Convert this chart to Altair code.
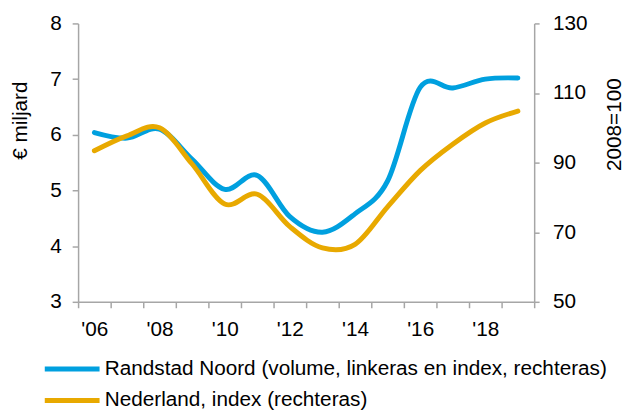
import altair as alt
import pandas as pd

years = list(range(2006, 2020))
randstad = [6.04, 5.94, 6.10, 5.56, 5.02, 5.27, 4.53, 4.25, 4.58, 5.17, 6.85, 6.84, 7.00, 7.02]
nederland = [93.4, 97.7, 100.0, 89.6, 78.1, 80.9, 71.6, 65.5, 66.5, 77.3, 87.7, 95.3, 101.4, 104.8]
series = ["Randstad Noord (volume, linkeras en index, rechteras)", "Nederland, index (rechteras)"]
colors = ["#00A0DF", "#E8A900"]
left_ticks = [3, 4, 5, 6, 7, 8]
right_ticks = [50, 70, 90, 110, 130]

df_r = pd.DataFrame({"year": years, "value": randstad, "series": series[0]})
df_n = pd.DataFrame({"year": years, "value": nederland, "series": series[1]})

FONT = "Liberation Sans"
FS = 21
GRAY = "#A6A6A6"

x_enc = alt.X(
    "year:O",
    bandPosition=0.5,
    scale=alt.Scale(type="band", paddingInner=0, paddingOuter=0),
    axis=alt.Axis(
        title=None,
        labelAngle=0,
        tickBand="extent",
        labelExpr="datum.value % 2 == 0 ? \"'\" + slice(toString(datum.value), 2) : ''",
        labelFontSize=FS,
        labelFont=FONT,
        labelColor="#000000",
        labelPadding=11,
        tickSize=6,
        tickColor=GRAY,
        domainColor=GRAY,
        domainWidth=1.5,
        tickWidth=1.5,
        grid=False,
    ),
)

color_enc = alt.Color(
    "series:N",
    scale=alt.Scale(domain=series, range=colors),
    legend=alt.Legend(
        title=None,
        orient="none",
        legendX=-36.5,
        legendY=334,
        direction="vertical",
        symbolType="stroke",
        symbolSize=3080,
        symbolStrokeWidth=5,
        labelFontSize=FS,
        labelFont=FONT,
        labelColor="#000000",
        labelOffset=2.5,
        labelLimit=600,
        padding=0,
        clipHeight=32,
        rowPadding=0,
    ),
)

left = alt.Chart(df_r).mark_line(interpolate="cardinal", strokeWidth=5, strokeCap="round").encode(
    x=x_enc,
    y=alt.Y(
        "value:Q",
        scale=alt.Scale(domain=[3, 8], nice=False, zero=False),
        axis=alt.Axis(
            values=left_ticks,
            title="€ miljard",
            titleFont=FONT,
            titleFontSize=FS,
            titleFontWeight="normal",
            titleColor="#000000",
            titleAngle=270,
            titleX=-58,
            titleY=98,
            titleAlign="center",
            titleBaseline="middle",
            labelFontSize=FS,
            labelFont=FONT,
            labelColor="#000000",
            labelPadding=11,
            tickSize=6,
            tickColor=GRAY,
            domainColor=GRAY,
            domainWidth=1.5,
            tickWidth=1.5,
            grid=False,
        ),
    ),
    color=color_enc,
)

right = alt.Chart(df_n).mark_line(interpolate="cardinal", strokeWidth=5, strokeCap="round").encode(
    x=x_enc,
    y=alt.Y(
        "value:Q",
        scale=alt.Scale(domain=[50, 130], nice=False, zero=False),
        axis=alt.Axis(
            orient="right",
            values=right_ticks,
            title="2008=100",
            titleFont=FONT,
            titleFontSize=FS,
            titleFontWeight="normal",
            titleColor="#000000",
            titleAngle=270,
            titleX=81,
            titleY=102,
            titleAlign="center",
            titleBaseline="middle",
            labelFontSize=FS,
            labelFont=FONT,
            labelColor="#000000",
            labelPadding=13.5,
            tickSize=5,
            tickColor=GRAY,
            domainColor=GRAY,
            domainWidth=1.5,
            tickWidth=1.5,
            grid=False,
        ),
    ),
    color=color_enc,
)

chart = (
    alt.layer(left, right)
    .resolve_scale(y="independent")
    .properties(
        width=462,
        height=282,
        autosize=alt.AutoSizeParams(type="none"),
        padding={"left": 71, "top": 13, "right": 92, "bottom": 110},
    )
    .configure_view(stroke=None)
)

chart.save("out.html", embed_options={"renderer": "svg", "actions": False})
